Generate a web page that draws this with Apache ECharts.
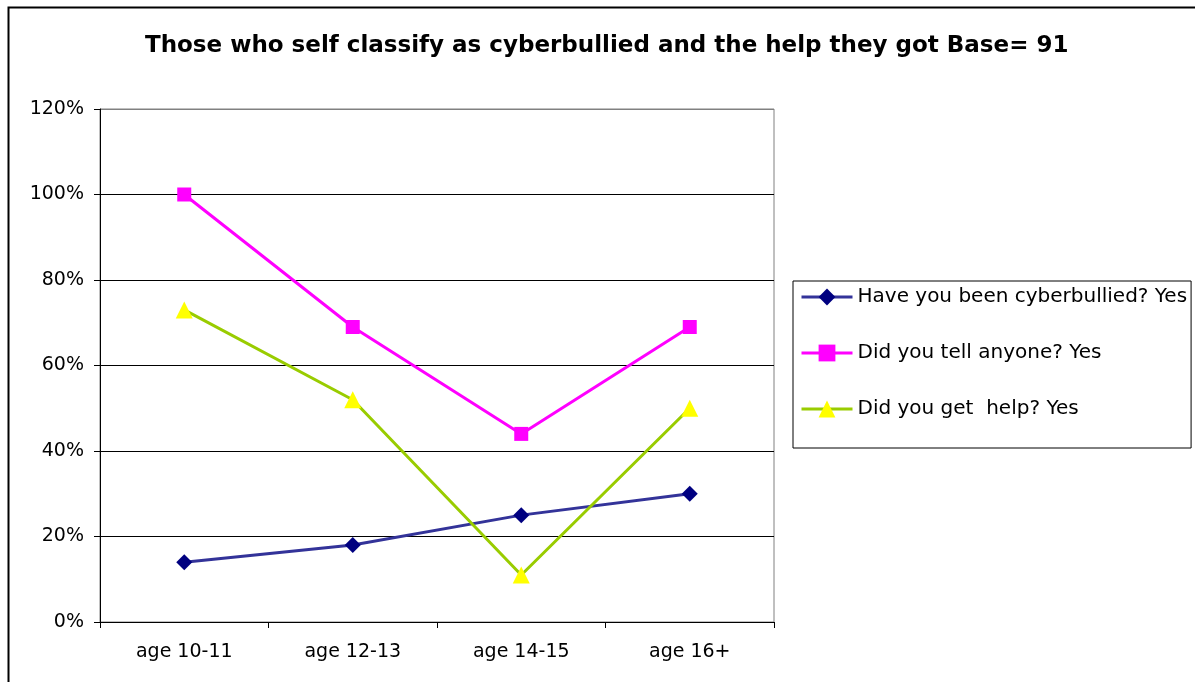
<!DOCTYPE html>
<html>
<head>
<meta charset="utf-8">
<script src="https://cdn.jsdelivr.net/npm/echarts@6/dist/echarts.min.js"></script>
<style>
  html, body { margin: 0; padding: 0; background: #fff; }
  #main { width: 1195px; height: 682px; }
</style>
</head>
<body>
<div id="main"></div>
<script>
const categories = ['age 10-11', 'age 12-13', 'age 14-15', 'age 16+']
const cyberbullied = [0.14, 0.18, 0.25, 0.30]
const toldAnyone = [1.00, 0.69, 0.44, 0.69]
const gotHelp = [0.73, 0.52, 0.11, 0.50]

const font = 'DejaVu Sans, Verdana, sans-serif'

const chart = echarts.init(document.getElementById('main'))

const option = {
  backgroundColor: '#fff',
  animation: false,
  title: {
    text: 'Those who self classify as cyberbullied and the help they got Base= 91',
    left: 140,
    top: 30,
    textStyle: { fontFamily: font, fontSize: 23, fontWeight: 'bold', color: '#000' }
  },
  graphic: [
    {
      type: 'rect',
      left: 6,
      top: 5,
      shape: { width: 1200, height: 700 },
      style: { fill: 'none', stroke: '#000', lineWidth: 2 },
      silent: true
    }
  ],
  legend: {
    orient: 'vertical',
    left: 793,
    top: 281,
    padding: [5, 4, 28, 7],
    itemGap: 34,
    itemWidth: 51,
    itemHeight: 21,
    borderColor: '#000',
    borderWidth: 1,
    lineStyle: { width: 3 },
    textStyle: { fontFamily: font, fontSize: 20, color: '#000', lineHeight: 22 },
    data: ['Have you been cyberbullied? Yes', 'Did you tell anyone? Yes', 'Did you get  help? Yes']
  },
  grid: {
    left: 100,
    right: 421,
    top: 109,
    bottom: 60,
    show: true,
    borderColor: '#808080',
    borderWidth: 1
  },
  xAxis: {
    type: 'category',
    data: categories,
    boundaryGap: true,
    axisLine: { lineStyle: { color: '#000', width: 1 } },
    axisTick: { show: true, length: 6, lineStyle: { color: '#000' } },
    axisLabel: { fontFamily: font, fontSize: 19, color: '#000', margin: 21 }
  },
  yAxis: {
    type: 'value',
    min: 0,
    max: 1.2,
    interval: 0.2,
    axisLine: { show: true, lineStyle: { color: '#000', width: 1 } },
    axisTick: { show: true, length: 6, lineStyle: { color: '#000' } },
    axisLabel: {
      fontFamily: font,
      fontSize: 19,
      color: '#000',
      margin: 16,
      formatter: v => Math.round(v * 100) + '%'
    },
    splitLine: {
      show: true,
      lineStyle: { color: ['#000', '#000', '#000', '#000', '#000', '#000', '#808080'], width: 1 }
    }
  },
  series: [
    {
      name: 'Have you been cyberbullied? Yes',
      type: 'line',
      data: cyberbullied,
      symbol: 'diamond',
      symbolSize: 16,
      lineStyle: { color: '#333399', width: 3 },
      itemStyle: { color: '#000080' }
    },
    {
      name: 'Did you tell anyone? Yes',
      type: 'line',
      data: toldAnyone,
      symbol: 'rect',
      symbolSize: 14,
      lineStyle: { color: '#FF00FF', width: 3 },
      itemStyle: { color: '#FF00FF' }
    },
    {
      name: 'Did you get  help? Yes',
      type: 'line',
      data: gotHelp,
      symbol: 'triangle',
      symbolSize: 17,
      lineStyle: { color: '#99CC00', width: 3 },
      itemStyle: { color: '#FFFF00' }
    }
  ]
}

chart.setOption(option)
</script>
</body>
</html>
